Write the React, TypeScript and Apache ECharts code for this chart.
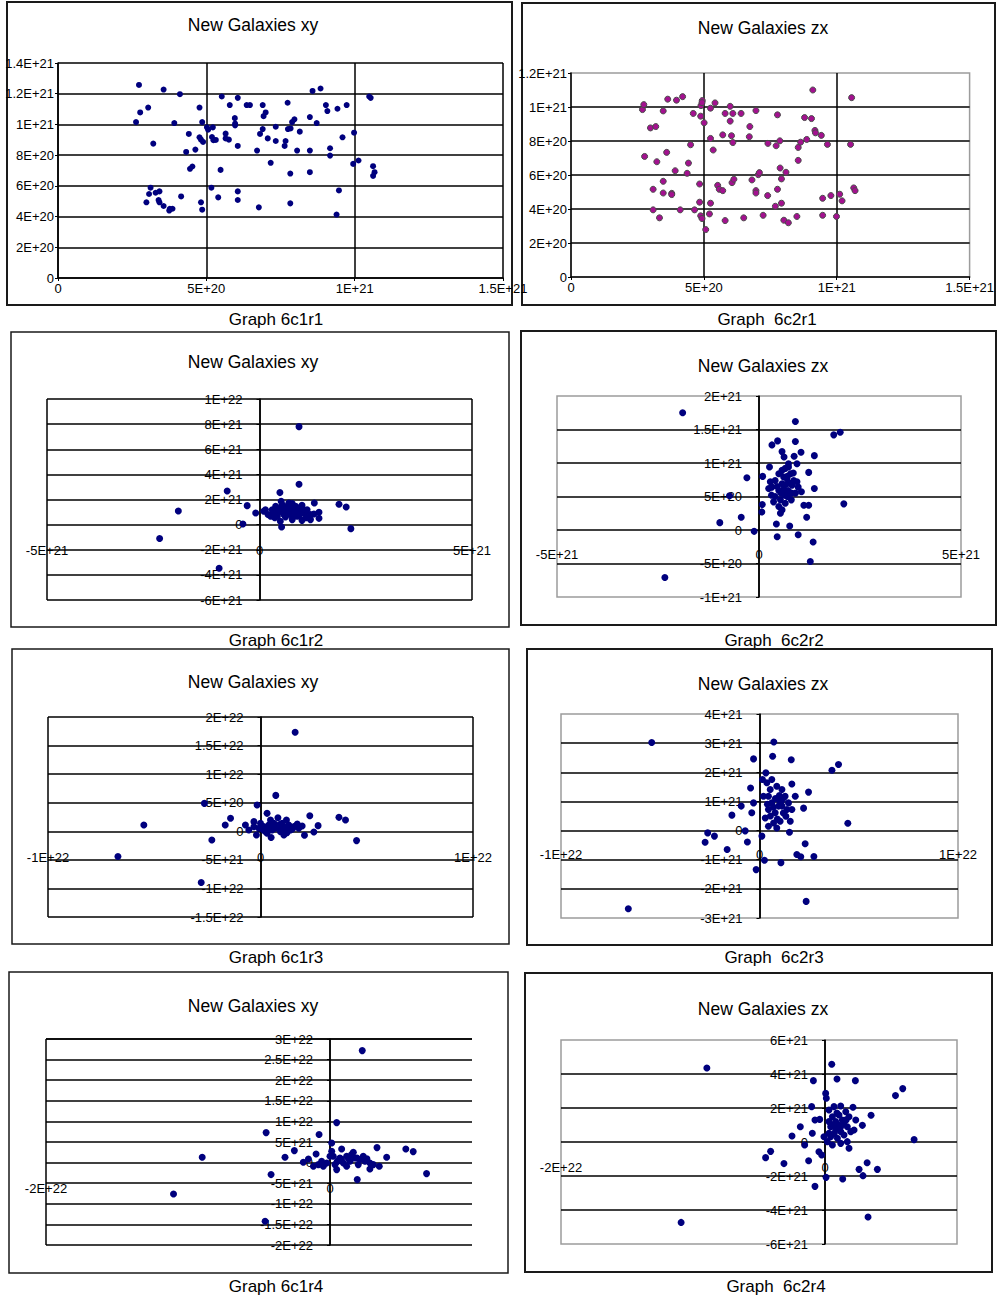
import React, { useEffect, useRef } from 'react';
import * as echarts from 'echarts';

const FONT = '"Liberation Sans", Arial, sans-serif';

// ---------- DATA ----------
const c1r1Unit = 1e20;
const c1r1Points = [
  [2.73,12.57],[2.77,10.78],[2.63,10.15],[3.04,11.10],[3.56,12.27],[4.11,11.97],[3.21,8.75],[3.92,10.09],[4.41,9.38],[4.32,8.21],
  [4.63,8.36],[4.45,7.11],[4.53,7.26],[4.77,11.10],[4.86,10.15],[4.77,9.16],[4.82,9.01],[4.89,8.86],[5.02,9.81],[5.06,9.66],
  [5.22,9.81],[5.19,9.18],[5.24,8.97],[5.32,8.99],[5.52,11.82],[5.79,11.26],[5.65,9.40],[5.65,9.09],[5.76,9.01],[5.48,7.04],
  [5.96,10.41],[5.97,10.05],[5.97,9.94],[6.06,11.73],[6.06,8.60],[6.36,11.26],[6.47,11.26],[6.90,11.26],[7.00,10.78],[6.93,10.54],
  [6.90,9.70],[6.81,9.38],[6.71,8.30],[7.07,9.09],[7.17,7.50],[7.34,9.85],[7.34,8.92],[7.74,11.41],[7.75,9.70],[7.84,9.74],
  [7.89,10.15],[7.97,10.33],[7.67,8.92],[7.64,8.60],[7.83,6.80],[8.06,8.30],[8.15,9.53],[8.58,12.18],[8.85,12.34],[8.49,10.48],
  [8.72,10.09],[8.49,8.30],[8.49,6.89],[9.03,11.26],[9.08,10.87],[9.17,8.45],[9.17,7.97],[9.42,11.02],[9.73,11.26],[9.59,9.16],
  [9.98,9.46],[9.95,7.43],[10.13,7.65],[10.49,11.82],[10.54,11.73],[10.62,7.28],[10.67,6.89],[10.62,6.65],[9.47,5.70],[9.39,4.13],
  [7.83,4.86],[6.77,4.60],[6.06,5.64],[6.06,5.08],[5.40,5.25],[5.17,5.88],[4.82,4.93],[4.86,4.45],[4.15,5.31],[3.86,4.51],
  [3.75,4.39],[3.77,4.51],[3.56,4.69],[3.42,4.93],[3.39,5.08],[3.29,5.55],[3.42,5.64],[3.12,5.88],[3.07,5.47],[2.98,4.93],
];

const c2r1Unit = 1e20;
const c2r1Points = [
  [2.69,9.85],[2.74,10.14],[2.77,7.09],[2.99,8.77],[3.19,8.85],[3.47,9.77],[3.64,10.46],[3.97,10.40],[4.20,10.61],[3.60,7.33],
  [3.23,6.78],[3.92,6.25],[4.42,6.70],[4.37,6.10],[4.50,7.78],[4.60,9.62],[4.88,9.46],[4.89,10.08],[4.94,10.38],[4.93,10.26],
  [5.01,9.07],[5.25,9.93],[5.42,10.24],[5.25,8.15],[5.35,7.47],[3.09,5.16],[3.47,5.63],[3.47,4.94],[3.79,4.92],[3.79,4.85],
  [3.09,3.95],[3.33,3.48],[4.11,3.95],[4.65,3.95],[4.84,5.47],[4.84,4.40],[4.88,3.60],[4.93,3.44],[5.07,2.79],[5.21,3.71],
  [5.25,4.34],[5.52,5.39],[5.58,5.16],[5.71,5.08],[5.71,8.36],[5.80,9.62],[5.99,10.04],[5.99,9.17],[6.04,8.31],[6.09,7.91],
  [6.09,9.62],[6.06,5.55],[6.13,5.75],[5.80,3.32],[6.40,9.62],[6.50,3.48],[6.73,8.85],[6.71,8.25],[6.81,5.71],[6.96,9.79],
  [6.96,5.08],[6.96,4.94],[7.05,6.02],[7.09,6.14],[7.23,3.63],[7.40,4.79],[7.41,7.86],[7.72,7.72],[7.77,9.54],[7.86,8.01],
  [7.87,6.41],[7.92,5.77],[7.77,5.16],[7.92,4.34],[7.69,4.16],[8.01,3.34],[8.09,6.16],[8.18,3.19],[8.50,3.56],[8.55,7.62],
  [8.55,6.86],[8.64,7.93],[8.79,9.38],[8.87,8.09],[9.05,9.32],[9.10,11.00],[9.18,8.62],[9.20,8.48],[9.42,8.33],[9.65,7.80],
  [9.47,4.63],[9.47,3.63],[9.78,4.79],[9.99,3.56],[10.11,4.87],[10.20,4.48],[10.52,7.80],[10.56,10.55],[10.64,5.24],[10.69,5.08],
];

const c1r2Unit = 1e21;
const c1r2Points = [
  [0.93,7.80],[0.93,3.21],[0.48,2.55],[-0.76,2.68],[-1.91,1.09],[-2.35,-1.11],[-0.95,-3.47],[-0.29,1.51],[-0.39,0.05],[-0.09,0.93],
  [0.10,1.06],[1.87,1.62],[2.04,1.41],[2.15,-0.32],[1.29,1.72],[1.40,0.98],[1.40,0.50],[1.20,0.40],[1.00,0.34],[0.52,-0.19],
  [0.51,1.86],[0.38,1.46],[0.32,1.06],[0.20,0.80],[0.57,1.19],[0.65,1.46],[0.77,1.67],[0.81,1.19],[0.73,0.80],[0.61,0.61],
  [0.49,0.27],[0.89,0.66],[0.96,1.06],[1.06,0.88],[1.12,1.19],[0.85,1.46],[0.65,0.98],[0.42,0.66],[0.30,1.19],[0.14,1.19],
  [0.53,1.59],[0.71,1.06],[0.79,0.61],[1.28,0.85],[1.20,0.80],[0.93,1.33],[0.57,0.80],[0.26,0.66],[0.45,0.98],[1.00,1.54],
  [0.77,0.40],[0.69,1.72],[0.34,0.85],[0.55,1.30],[0.75,1.25],[0.88,0.95],[1.02,1.25],[0.62,1.10],[0.45,1.25],[0.83,1.05],
  [0.68,0.85],[1.10,0.55],[0.36,0.55],[0.95,0.80],[0.70,1.35],
];

const c2r2Unit = 1e21;
const c2r2Points = [
  [-1.89,1.75],[-2.33,-0.71],[0.90,1.62],[1.85,1.42],[2.01,1.46],[0.46,1.33],[0.32,1.27],[0.90,1.32],[0.57,1.17],[0.62,1.09],
  [1.04,1.16],[1.37,1.11],[0.87,1.10],[0.94,0.99],[0.26,0.94],[0.09,0.80],[-0.30,0.78],[1.23,0.86],[1.37,0.62],[1.05,0.57],
  [2.10,0.39],[1.11,0.37],[1.23,0.37],[1.18,0.19],[-0.73,0.51],[-0.44,0.19],[-0.97,0.11],[-0.12,-0.02],[0.08,0.38],[0.07,0.27],
  [0.43,0.09],[0.76,0.06],[0.45,-0.10],[0.97,-0.07],[1.34,-0.18],[1.27,-0.47],[0.32,0.64],[0.40,0.74],[0.49,0.84],[0.57,0.89],
  [0.65,0.92],[0.73,0.94],[0.78,0.84],[0.69,0.77],[0.57,0.69],[0.49,0.59],[0.40,0.50],[0.36,0.42],[0.49,0.35],[0.53,0.45],
  [0.64,0.52],[0.72,0.59],[0.82,0.67],[0.86,0.74],[0.94,0.72],[0.97,0.64],[0.80,0.55],[0.61,0.79],[0.31,0.52],[0.28,0.72],
  [0.24,0.62],[0.57,0.30],[0.65,0.40],[0.53,0.25],[0.73,0.99],[0.70,0.80],[0.75,0.70],[0.60,0.60],[0.85,0.85],[0.66,0.68],
  [0.55,0.55],[0.45,0.65],[0.80,0.45],[0.90,0.55],[0.70,0.50],
];

const c1r3Unit = 1e21;
const c1r3Points = [
  [1.63,17.33],[0.72,6.28],[-2.64,4.88],[-0.16,4.59],[-1.41,2.27],[-1.66,1.10],[-5.49,1.10],[-6.71,-4.42],[-2.79,-8.95],[-2.29,-1.51],
  [4.52,-1.63],[3.69,2.44],[4.00,1.98],[2.32,2.73],[2.71,0.99],[2.07,-0.70],[2.51,-0.12],[0.31,3.14],[0.82,2.38],[1.22,1.98],
  [-0.31,1.69],[-0.71,1.10],[-0.55,0.23],[-0.19,-0.64],[0.50,-1.10],[1.10,-0.64],[0.16,0.81],[0.39,1.10],[0.63,1.40],[0.86,0.81],
  [1.10,0.52],[1.33,1.10],[1.57,0.81],[1.80,0.52],[1.41,0.23],[0.94,-0.06],[0.55,0.23],[0.24,-0.06],[-0.08,0.52],[-0.31,0.81],
  [0.71,0.52],[1.02,1.40],[1.73,1.28],[1.96,0.93],[1.25,-0.23],[0.31,-0.35],[0.00,1.40],[0.47,1.98],[0.13,0.23],[0.60,0.90],
  [1.20,0.70],[0.90,1.20],[1.50,0.40],[0.35,0.60],
];
// tick label text as printed in the source figure
const c1r3YLabelOverrides: [number, string][] = [[5e21, '5E+20']];

const c2r3Unit = 1e21;
const c2r3Points = [
  [-5.43,3.02],[-6.61,-2.68],[0.72,3.04],[-0.30,2.46],[0.66,2.55],[1.60,2.43],[3.65,2.07],[3.98,2.27],[0.32,1.98],[-0.45,1.46],
  [1.63,1.60],[2.47,1.32],[2.22,0.77],[4.45,0.25],[-0.92,0.84],[-1.39,0.53],[-0.30,0.95],[-0.39,0.61],[-0.72,-0.01],[-2.61,-0.08],
  [-2.27,-0.19],[-2.74,-0.40],[-1.63,-0.65],[-0.61,-0.39],[0.12,-0.19],[1.51,-0.06],[2.30,-0.45],[1.88,-0.82],[2.08,-0.90],[2.74,-0.89],
  [0.25,-1.02],[1.08,-1.10],[-0.17,-1.34],[2.35,-2.43],[0.37,1.64],[0.54,1.41],[0.87,1.52],[1.13,1.41],[1.29,1.18],[0.96,1.06],
  [0.62,0.95],[0.45,0.72],[0.79,0.61],[1.13,0.84],[1.46,0.95],[1.63,0.72],[1.33,0.49],[1.04,0.32],[0.71,0.26],[0.45,0.15],
  [0.29,0.43],[0.20,1.18],[1.80,1.18],[1.55,0.32],[0.87,0.09],[1.21,1.12],[0.45,1.18],[1.38,0.72],[0.62,1.75],[0.15,1.75],
  [0.96,0.84],[0.80,1.10],[1.00,1.20],[0.70,0.80],[1.20,0.60],[0.55,0.50],[0.90,0.40],[0.40,0.90],[1.10,1.00],
];

const c1r4Unit = 1e21;
const c1r4Points = [
  [2.27,27.18],[0.47,9.71],[-4.50,7.28],[-0.77,6.80],[-2.51,2.91],[-3.17,1.29],[-9.00,1.29],[-11.02,-7.61],[-4.57,-14.24],[-4.15,-2.91],
  [1.92,-4.13],[6.80,-2.67],[5.34,3.32],[5.86,2.67],[3.31,3.64],[3.99,1.29],[0.82,3.32],[-0.98,2.10],[-1.52,0.89],[-1.88,0.08],
  [-1.17,-0.89],[2.81,-1.54],[3.47,-0.89],[0.47,-1.70],[0.12,4.77],[0.23,1.54],[0.70,1.13],[1.17,1.54],[1.52,1.94],[1.76,1.13],
  [2.11,0.73],[2.46,0.32],[2.81,-0.08],[3.05,-0.49],[1.41,0.32],[0.94,-0.08],[0.35,-0.49],[-0.23,-0.08],[-0.59,0.32],[-0.47,-0.89],
  [-0.82,-0.49],[1.17,-0.89],[1.99,-0.49],[2.34,1.54],[1.64,2.51],[0.12,2.75],[0.59,0.57],[0.00,1.54],[0.80,0.80],[1.30,1.00],
  [1.90,1.10],[0.50,0.20],[2.60,0.90],
];

const c2r4Unit = 1e21;
const c2r4Points = [
  [-8.95,4.35],[-10.90,-4.73],[0.51,4.57],[-0.88,3.61],[0.91,3.71],[2.30,3.61],[5.89,3.14],[5.34,2.73],[0.05,2.86],[0.10,2.57],
  [-1.01,2.08],[3.49,1.57],[2.83,0.98],[-1.87,0.90],[-2.50,0.35],[-0.76,1.29],[-0.40,1.33],[-0.96,0.51],[6.75,0.14],[-1.54,-0.18],
  [-0.46,-0.57],[-0.25,-0.76],[-4.12,-0.55],[-4.50,-0.92],[-3.11,-1.27],[-1.24,-1.10],[3.19,-1.22],[2.58,-1.61],[3.97,-1.61],[2.88,-1.98],
  [0.08,-2.08],[1.34,-2.18],[-0.76,-2.61],[3.26,-4.41],[1.82,-0.37],[0.30,1.88],[0.68,2.08],[1.19,2.12],[1.57,1.78],[2.12,2.04],
  [1.82,1.49],[1.31,1.29],[0.81,1.20],[0.43,0.90],[0.81,0.71],[1.19,0.90],[1.69,0.90],[1.95,0.61],[1.44,0.41],[0.94,0.22],
  [0.43,0.31],[0.18,0.02],[0.56,-0.18],[1.19,-0.08],[1.69,0.02],[0.30,0.51],[-0.08,0.31],[1.06,1.59],[0.56,1.49],[2.33,1.29],
  [2.20,0.71],[1.00,1.00],[1.40,1.10],[0.70,0.50],[1.20,0.60],[0.60,1.00],[1.60,1.30],[0.90,1.70],[0.30,1.20],
];

const titlesXY = 'New Galaxies xy';
const titlesZX = 'New Galaxies zx';
const captions = ['Graph 6c1r1', 'Graph  6c2r1', 'Graph 6c1r2', 'Graph  6c2r2', 'Graph 6c1r3', 'Graph  6c2r3', 'Graph 6c1r4', 'Graph  6c2r4'];

// ---------- FORMAT ----------
function sci(v: number): string {
  if (Math.abs(v) < 1) return '0';
  let e = Math.floor(Math.log10(Math.abs(v)) + 1e-9);
  let m = Math.round((v / Math.pow(10, e)) * 100) / 100;
  if (Math.abs(m) >= 10) { m = m / 10; e += 1; }
  return `${m}E${e >= 0 ? '+' : '-'}${String(Math.abs(e)).padStart(2, '0')}`;
}

type Panel = {
  points: number[][]; unit: number; color: string; border?: string; size: number;
  grid: { left: number; top: number; width: number; height: number };
  x: { min: number; max: number; interval: number };
  y: { min: number; max: number; interval: number };
  c2: boolean; centered: boolean; xOffset: number; hideXMax?: boolean;
  yOverrides?: [number, string][];
  title: string; titlePos: [number, number];
  caption: string; capPos: [number, number];
  box: [number, number, number, number]; boxW: number;
};

const NAVY = '#00007e';

const panels: Panel[] = [
  { points: c1r1Points, unit: c1r1Unit, color: NAVY, size: 6,
    grid: { left: 58, top: 63, width: 445, height: 215 },
    x: { min: 0, max: 1.5e21, interval: 5e20 }, y: { min: 0, max: 1.4e21, interval: 2e20 },
    c2: false, centered: false, xOffset: 0,
    title: titlesXY, titlePos: [253, 25], caption: captions[0], capPos: [276, 319], box: [7, 2, 505, 303], boxW: 2 },
  { points: c2r1Points, unit: c2r1Unit, color: '#a3118f', border: '#4a4a4a', size: 6,
    grid: { left: 571, top: 73, width: 404, height: 204 },
    x: { min: 0, max: 1.5e21, interval: 5e20 }, y: { min: 0, max: 1.2e21, interval: 2e20 },
    c2: true, centered: false, xOffset: 0,
    title: titlesZX, titlePos: [763, 28], caption: captions[1], capPos: [767, 319], box: [522, 3, 473, 302], boxW: 2 },
  { points: c1r2Points, unit: c1r2Unit, color: NAVY, size: 7,
    grid: { left: 47, top: 399, width: 425, height: 201 },
    x: { min: -5e21, max: 5e21, interval: 5e21 }, y: { min: -6e21, max: 1e22, interval: 2e21 },
    c2: false, centered: true, xOffset: -50,
    title: titlesXY, titlePos: [253, 362], caption: captions[2], capPos: [276, 640], box: [11, 332, 498, 295], boxW: 1.5 },
  { points: c2r2Points, unit: c2r2Unit, color: NAVY, size: 7,
    grid: { left: 557, top: 396, width: 404, height: 201 },
    x: { min: -5e21, max: 5e21, interval: 5e21 }, y: { min: -1e21, max: 2e21, interval: 5e20 },
    c2: true, centered: true, xOffset: -43,
    title: titlesZX, titlePos: [763, 366], caption: captions[3], capPos: [774, 640], box: [521, 331, 475, 294], boxW: 2 },
  { points: c1r3Points, unit: c1r3Unit, color: NAVY, size: 7,
    grid: { left: 48, top: 717, width: 425, height: 200 },
    x: { min: -1e22, max: 1e22, interval: 1e22 }, y: { min: -1.5e22, max: 2e22, interval: 5e21 },
    c2: false, centered: true, xOffset: -60, yOverrides: c1r3YLabelOverrides,
    title: titlesXY, titlePos: [253, 682], caption: captions[4], capPos: [276, 957], box: [12, 649, 497, 295], boxW: 1.5 },
  { points: c2r3Points, unit: c2r3Unit, color: NAVY, size: 7,
    grid: { left: 561, top: 714, width: 397, height: 204 },
    x: { min: -1e22, max: 1e22, interval: 1e22 }, y: { min: -3e21, max: 4e21, interval: 1e21 },
    c2: true, centered: true, xOffset: -64,
    title: titlesZX, titlePos: [763, 684], caption: captions[5], capPos: [774, 957], box: [527, 649, 465, 296], boxW: 2 },
  { points: c1r4Points, unit: c1r4Unit, color: NAVY, size: 7,
    grid: { left: 46, top: 1039, width: 426, height: 206 },
    x: { min: -2e22, max: 1e22, interval: 2e22 }, y: { min: -2e22, max: 3e22, interval: 5e21 },
    c2: false, centered: true, xOffset: -57, hideXMax: true,
    title: titlesXY, titlePos: [253, 1006], caption: captions[6], capPos: [276, 1286], box: [9, 972, 499, 301], boxW: 1.5 },
  { points: c2r4Points, unit: c2r4Unit, color: NAVY, size: 7,
    grid: { left: 561, top: 1040, width: 396, height: 204 },
    x: { min: -2e22, max: 1e22, interval: 2e22 }, y: { min: -6e21, max: 6e21, interval: 2e21 },
    c2: true, centered: true, xOffset: -77, hideXMax: true,
    title: titlesZX, titlePos: [763, 1009], caption: captions[7], capPos: [776, 1286], box: [525, 973, 467, 299], boxW: 2 },
];

function buildOption() {
  const lbl = { fontSize: 13, fontFamily: FONT, color: '#000' };
  const grid = panels.map((p) => ({
    ...p.grid, containLabel: false,
    show: p.c2, borderColor: '#9c9c9c', borderWidth: 1.5, backgroundColor: 'transparent',
  }));
  const xAxis = panels.map((p, i) => ({
    type: 'value', gridIndex: i, min: p.x.min, max: p.x.max, interval: p.x.interval,
    position: 'bottom', offset: p.centered ? p.xOffset : 0,
    axisLine: { show: !p.centered, onZero: false, lineStyle: { color: '#000', width: 1.5 } },
    axisTick: { show: !p.centered, length: 3, lineStyle: { color: '#000', width: 1 } },
    axisLabel: {
      ...lbl, formatter: (v: number) => sci(v),
      margin: p.centered ? 0 : 4, verticalAlign: p.centered ? 'middle' : 'top',
      showMinLabel: true, showMaxLabel: !p.hideXMax, hideOverlap: false,
    },
    splitLine: {
      show: true, lineStyle: { color: '#000', width: 1.5 },
      showMinLine: !p.c2, showMaxLine: !p.c2 && !p.hideXMax,
    },
  }));
  const yAxis = panels.map((p, i) => {
    // place the vertical axis where x = 0 on the x scale
    const zeroShift = p.centered ? (p.grid.width * (0 - p.x.min)) / (p.x.max - p.x.min) : 0;
    return {
      type: 'value', gridIndex: i, min: p.y.min, max: p.y.max, interval: p.y.interval,
      position: 'left', offset: -zeroShift,
      axisLine: { show: true, onZero: false, lineStyle: { color: '#000', width: 1.5 } },
      axisTick: { show: true, length: 3, lineStyle: { color: '#000', width: 1 } },
      axisLabel: {
        ...lbl,
        formatter: (v: number) => {
          const o = (p.yOverrides || []).find(([val]) => Math.abs(val - v) < Math.abs(val) * 1e-6);
          return o ? o[1] : sci(v);
        },
        margin: p.centered ? 17 : 4, showMinLabel: true, showMaxLabel: true, hideOverlap: false,
      },
      splitLine: {
        show: true, lineStyle: { color: '#000', width: 1.5 },
        showMinLine: !p.c2, showMaxLine: !p.c2,
      },
    };
  });
  const series = panels.map((p, i) => ({
    type: 'scatter', xAxisIndex: i, yAxisIndex: i, silent: true,
    symbolSize: p.size,
    itemStyle: { color: p.color, borderColor: p.border || p.color, borderWidth: p.border ? 1 : 0, opacity: 1 },
    data: p.points.map(([x, y]) => [x * p.unit, y * p.unit]),
  }));
  const graphic: any[] = [];
  panels.forEach((p) => {
    graphic.push({
      type: 'rect', silent: true,
      shape: { x: p.box[0], y: p.box[1], width: p.box[2], height: p.box[3] },
      style: { fill: 'none', stroke: '#1a1a1a', lineWidth: p.boxW },
    });
    graphic.push({
      type: 'text', x: p.titlePos[0], y: p.titlePos[1], silent: true,
      style: { text: p.title, font: `17.5px ${FONT}`, fill: '#000', textAlign: 'center', textVerticalAlign: 'middle', align: 'center', verticalAlign: 'middle' },
    });
    graphic.push({
      type: 'text', x: p.capPos[0], y: p.capPos[1], silent: true,
      style: { text: p.caption, font: `17px ${FONT}`, fill: '#000', textAlign: 'center', textVerticalAlign: 'middle', align: 'center', verticalAlign: 'middle' },
    });
  });
  return { animation: false, backgroundColor: '#fff', grid, xAxis, yAxis, series, graphic };
}

export default function App() {
  const ref = useRef<HTMLDivElement>(null);
  useEffect(() => {
    const chart = echarts.init(ref.current as HTMLDivElement, null, { renderer: 'svg' });
    chart.setOption(buildOption() as any);
    return () => chart.dispose();
  }, []);
  return (
    <div
      ref={ref}
      style={{ position: 'absolute', left: 0, top: 0, width: 997, height: 1295, background: '#fff' }}
    />
  );
}
